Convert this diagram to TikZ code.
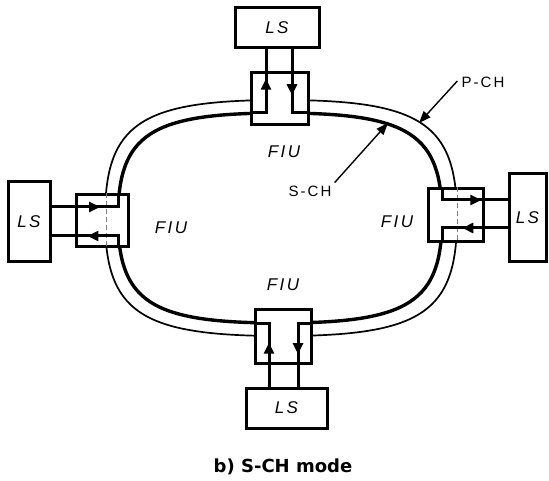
\documentclass[tikz,border=0pt]{standalone}
\usepackage{fontspec}
\usetikzlibrary{arrows.meta,decorations.markings}
\newfontfamily\lblfont{Liberation Sans}[LetterSpace=14]
\newfontfamily\capfont{DejaVu Sans}
\begin{document}
\begin{tikzpicture}[x=1pt,y=-1pt,
  ringout/.style={line width=1.7pt},
  ringin/.style={line width=3.4pt},
  fiubox/.style={draw,line width=3pt,fill=white,rectangle,inner sep=0pt},
  lsbox/.style={draw,line width=3pt,fill=white,rectangle,inner sep=0pt,font=\lblfont\itshape\fontsize{17}{17}\selectfont},
  wire/.style={line width=3pt},
  bypass/.style={line width=1pt,gray,dash pattern=on 5pt off 3pt},
  midarr/.style={postaction={decorate},decoration={markings,mark=at position #1 with {\arrow{Triangle[length=11pt,width=10pt]}}}},
  lbl/.style={inner sep=1pt,font=\lblfont\itshape\fontsize{17}{17}\selectfont},
  chlbl/.style={inner sep=1pt,font=\lblfont\fontsize{15}{15}\selectfont},
  callout/.style={line width=1.4pt,-{Triangle[length=12pt,width=9pt]}}]
\useasboundingbox (0,0) rectangle (549,481);
% rings (P-CH outer, S-CH inner)
\draw[ringout] (457,218) .. controls (457,123.6) and (421.8,100) .. (281,100)
  .. controls (140.2,100) and (105,123.6) .. (105,218)
  .. controls (105,312.4) and (140.2,336) .. (281,336)
  .. controls (421.8,336) and (457,312.4) .. (457,218) -- cycle;
\draw[ringin] (442,218) .. controls (442,134) and (409.6,113) .. (280,113)
  .. controls (150.4,113) and (118,134) .. (118,218)
  .. controls (118,302) and (150.4,323) .. (280,323)
  .. controls (409.6,323) and (442,302) .. (442,218) -- cycle;
% FIU boxes
\node[fiubox,minimum width=57pt,minimum height=52pt] (fiuT) at (279.5,99) {};
\node[fiubox,minimum width=52pt,minimum height=52pt] (fiuL) at (102,221) {};
\node[fiubox,minimum width=55pt,minimum height=53pt] (fiuR) at (455.5,215.5) {};
\node[fiubox,minimum width=56pt,minimum height=54pt] (fiuB) at (283,336) {};
% P-CH bypass inside side boxes
\coordinate (byL) at (106,221);
\coordinate (byR) at (457,215);
\draw[bypass] (byL |- fiuL.north) -- (byL |- fiuL.south);
\draw[bypass] (byR |- fiuR.north) -- (byR |- fiuR.south);
% LS boxes
\node[lsbox,minimum width=84pt,minimum height=40pt] (lsT) at (277,28) {LS};
\node[lsbox,minimum width=42pt,minimum height=80pt] (lsL) at (29,222) {LS};
\node[lsbox,minimum width=37pt,minimum height=88pt] (lsR) at (527.5,218) {LS};
\node[lsbox,minimum width=81pt,minimum height=40pt] (lsB) at (286.5,408) {LS};
% wire corners
\coordinate (tA) at (266,113);
\coordinate (tB) at (292,113);
\coordinate (lA) at (118,207);
\coordinate (lB) at (118,236);
\coordinate (rA) at (442,200);
\coordinate (rB) at (442,228);
\coordinate (bA) at (269,323);
\coordinate (bB) at (298,323);
% top FIU wires
\draw[wire] (fiuT.west |- tA) -- (tA) -- (tA |- lsT.south);
\draw[wire,midarr=0.54] (tA) -- (tA |- lsT.south);
\draw[wire] (tB |- lsT.south) -- (tB) -- (fiuT.east |- tB);
\draw[wire,midarr=0.72] (tB |- lsT.south) -- (tB);
% left FIU wires
\draw[wire] (lsL.east |- lA) -- (lA) -- (lA |- fiuL.north);
\draw[wire,midarr=0.73] (lsL.east |- lA) -- (lA);
\draw[wire] (lB |- fiuL.south) -- (lB) -- (lsL.east |- lB);
\draw[wire,midarr=0.46] (lB) -- (lsL.east |- lB);
% right FIU wires
\draw[wire] (rA |- fiuR.north) -- (rA) -- (lsR.west |- rA);
\draw[wire,midarr=0.6] (rA) -- (lsR.west |- rA);
\draw[wire] (lsR.west |- rB) -- (rB) -- (rB |- fiuR.south);
\draw[wire,midarr=0.69] (lsR.west |- rB) -- (rB);
% bottom FIU wires
\draw[wire] (fiuB.west |- bA) -- (bA) -- (bA |- lsB.north);
\draw[wire,midarr=0.69] (bA |- lsB.north) -- (bA);
\draw[wire] (bB |- lsB.north) -- (bB) -- (fiuB.east |- bB);
\draw[wire,midarr=0.49] (bB) -- (bB |- lsB.north);
% FIU labels
\node[lbl] (fiuTl) at (284,152) {FIU};
\node[lbl] (fiuLl) at (171,228) {FIU};
\node[lbl] (fiuRl) at (397,222) {FIU};
\node[lbl] (fiuBl) at (283,285) {FIU};
% channel labels
\node[chlbl] (pch) at (483,82) {P-CH};
\node[chlbl] (sch) at (310,191) {S-CH};
\coordinate (pchTip) at (419,123);
\coordinate (schTip) at (388,123);
\draw[callout] ([xshift=-3pt,yshift=1pt]pch.west) -- (pchTip);
\draw[callout] ([xshift=2pt,yshift=2pt]sch.north east) -- (schTip);
% caption
\node[inner sep=0pt,font=\capfont\bfseries\fontsize{18}{18}\selectfont] (cap) at (283,467) {b) S-CH mode};
\end{tikzpicture}
\end{document}
